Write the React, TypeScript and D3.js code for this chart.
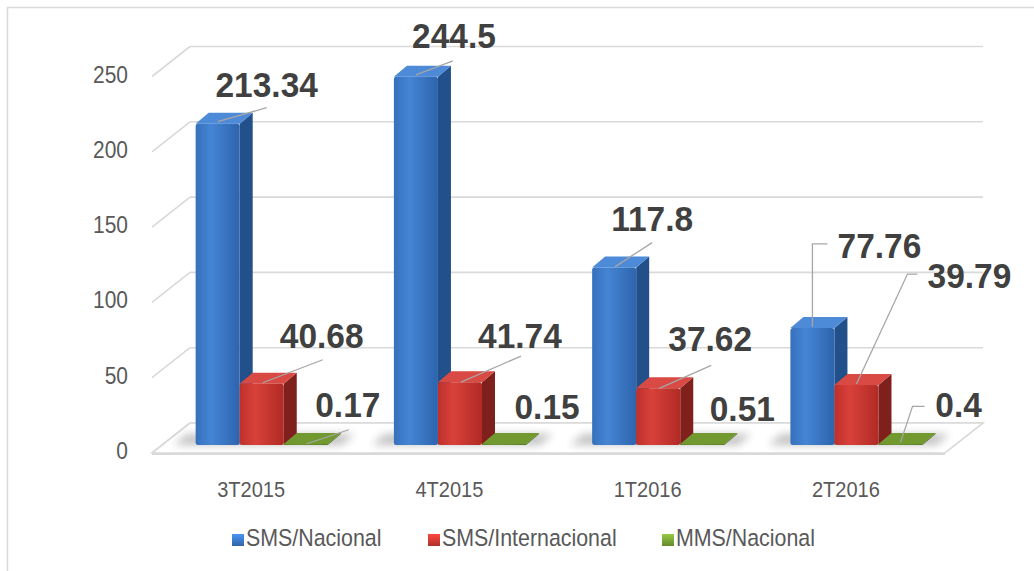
import React from "react";
import * as d3 from "d3";

// ---- data ----
const categories = ["3T2015", "4T2015", "1T2016", "2T2016"];
const seriesNames = ["SMS/Nacional", "SMS/Internacional", "MMS/Nacional"];
const smsNacional = [213.34, 244.5, 117.8, 77.76];
const smsInternacional = [40.68, 41.74, 37.62, 39.79];
const mmsNacional = [0.17, 0.15, 0.51, 0.4];
const yTicks = [0, 50, 100, 150, 200, 250];
const seriesValues = [smsNacional, smsInternacional, mmsNacional];

// ---- layout (label placement relative to bar top-front-centre) ----
type LL = { tx: number; ty: number; pts: number[][] };
const labelLayout: LL[][] = [
  // SMS/Nacional
  [
    { tx: 49, ty: -27, pts: [[0, -2], [49, -16]] },
    { tx: 38, ty: -29, pts: [[0, -2], [37, -16]] },
    { tx: 38, ty: -37, pts: [[1, -1], [38, -25]] },
    { tx: 67, ty: -70, pts: [[0, -1], [0, -84], [15, -84]] },
  ],
  // SMS/Internacional
  [
    { tx: 60, ty: -36, pts: [[1, -1], [61, -24]] },
    { tx: 60, ty: -34, pts: [[1, 0], [61, -26]] },
    { tx: 52, ty: -37, pts: [[1, 0], [53, -23]] },
    { tx: 113, ty: -97, pts: [[0, -1], [51, -111], [61, -111]] },
  ],
  // MMS/Nacional
  [
    { tx: 42, ty: -28, pts: [[1, -1], [43, -15]] },
    { tx: 43, ty: -26, pts: [] },
    { tx: 40, ty: -23, pts: [] },
    { tx: 58, ty: -27, pts: [[0, -2], [12, -38], [24, -38]] },
  ],
];

const W = 1034;
const H = 571;
const floorFrontY = 453;
const depthX = 38;
const depthY = -30;
const barFrontDX = 10.6;
const barBaseY = 445;
const barDepthX = 13;
const barDepthY = -11;

const colors = [
  { front: ["#3670bd", "#4585d4", "#2d64ad"], side: "#22508a", top: "#4d8ad8", leg: "#3b78c6" },
  { front: ["#bf302b", "#d8413a", "#b12a25"], side: "#80201c", top: "#d84a43", leg: "#cf3a34" },
  { front: ["#5f8227", "#6f9632", "#5a7c25"], side: "#4d6b1f", top: "#71992f", leg: "#7aa336" },
];

export default function App() {
  const xBand = d3.scaleBand<string>().domain(categories).range([152, 945]).paddingInner(0).paddingOuter(0);
  const band = xBand.bandwidth();
  const barW = band / (seriesNames.length + 1.5);
  const yBack = d3.scaleLinear().domain([0, 250]).range([floorFrontY + depthY, 46.5]);
  const pxPerUnit = (yBack(0) - yBack(250)) / 250;
  const yBar = (v: number) => barBaseY - v * pxPerUnit;

  const backX0 = 152 + depthX;
  const backX1 = 945 + depthX;

  const bars: any[] = [];
  categories.forEach((c, i) => {
    seriesValues.forEach((vals, s) => {
      const x0 = (xBand(c) as number) + barFrontDX + 0.75 * barW + s * barW;
      const x1 = x0 + barW;
      const v = vals[i];
      const top = Math.min(yBar(v), barBaseY - 1);
      bars.push({ c, i, s, x0, x1, top, v });
    });
  });

  const fmt = (v: number) => String(v);

  const legendItems = [
    { x: 232, name: seriesNames[0], s: 0 },
    { x: 428, name: seriesNames[1], s: 1 },
    { x: 662, name: seriesNames[2], s: 2 },
  ];

  const sx = 0.91;

  return (
    <div style={{ position: "absolute", left: 0, top: 0, width: W, height: H }}>
      <svg width={W} height={H} style={{ display: "block", fontFamily: "'Liberation Sans', Arial, sans-serif" }}>
        <defs>
          {colors.map((col, s) => (
            <linearGradient key={s} id={`front${s}`} x1="0" x2="1" y1="0" y2="0">
              <stop offset="0%" stopColor={col.front[0]} />
              <stop offset="35%" stopColor={col.front[1]} />
              <stop offset="100%" stopColor={col.front[2]} />
            </linearGradient>
          ))}
          {colors.map((col, s) => (
            <linearGradient key={"l" + s} id={`leg${s}`} x1="0" x2="0" y1="0" y2="1">
              <stop offset="0%" stopColor={d3.color(col.leg)!.brighter(0.6).toString()} />
              <stop offset="100%" stopColor={d3.color(col.leg)!.darker(0.5).toString()} />
            </linearGradient>
          ))}
          <filter id="blur" x="-20%" y="-100%" width="140%" height="300%">
            <feGaussianBlur stdDeviation="4" />
          </filter>
        </defs>
        <rect x={0} y={0} width={W} height={H} fill="#ffffff" />
        {/* outer frame (partially visible) */}
        <rect x={7.5} y={7.5} width={W + 20} height={H + 20} fill="none" stroke="#d9d9d9" strokeWidth={1.5} />

        {/* back wall gridlines + side wall diagonals */}
        {yTicks.map((t) => (
          <g key={t}>
            <line x1={backX0} x2={backX1} y1={yBack(t)} y2={yBack(t)} stroke="#d9d9d9" strokeWidth={1.6} />
            <line x1={152} y1={yBack(t) - depthY} x2={backX0} y2={yBack(t)} stroke="#d9d9d9" strokeWidth={1.6} />
            <text
              transform={`translate(128,${yBack(t) - depthY}) scale(${sx},1)`}
              textAnchor="end"
              dominantBaseline="middle"
              fontSize={23}
              fill="#595959"
            >
              {t}
            </text>
          </g>
        ))}
        {/* floor */}
        <path
          d={`M152,${floorFrontY} L945,${floorFrontY} L${backX1},${floorFrontY + depthY} L${backX0},${floorFrontY + depthY} Z`}
          fill="#ffffff"
          stroke="#d9d9d9"
          strokeWidth={1.6}
        />
        <line x1={152} x2={945} y1={floorFrontY + 1} y2={floorFrontY + 1} stroke="#d9d9d9" strokeWidth={2} />

        {/* shadows */}
        {categories.map((c) => {
          const gx0 = (xBand(c) as number) + barFrontDX + 0.75 * barW;
          const gx1 = gx0 + 3 * barW;
          return (
            <path
              key={"sh" + c}
              d={`M${gx0 - 22},${barBaseY} L${gx1 + 14},${barBaseY} L${gx1 + 14 + barDepthX},${barBaseY + barDepthY} L${gx0 - 22 + barDepthX},${barBaseY + barDepthY} Z`}
              fill="#000"
              opacity={0.24}
              filter="url(#blur)"
            />
          );
        })}

        {/* bars */}
        {bars.map((b) => {
          const col = colors[b.s];
          const { x0, x1, top } = b;
          const h = barBaseY - top;
          return (
            <g key={b.c + b.s}>
              <path
                d={`M${x1},${top} L${x1 + barDepthX},${top + barDepthY} L${x1 + barDepthX},${barBaseY + barDepthY} L${x1},${barBaseY} Z`}
                fill={col.side}
              />
              <path
                d={`M${x0},${top} L${x1},${top} L${x1 + barDepthX},${top + barDepthY} L${x0 + barDepthX},${top + barDepthY} Z`}
                fill={col.top}
              />
              <rect x={x0} y={top} width={barW} height={h} rx={h > 6 ? 2.5 : 0} fill={`url(#front${b.s})`} />
            </g>
          );
        })}

        {/* leader lines and labels */}
        {bars.map((b) => {
          const L = labelLayout[b.s][b.i];
          const cx = (b.x0 + b.x1) / 2;
          const ty = yBar(b.v);
          const line = d3.line()(L.pts.map((p) => [cx + p[0], ty + p[1]] as [number, number]));
          return (
            <g key={"lb" + b.c + b.s}>
              {L.pts.length > 0 && <path d={line || ""} fill="none" stroke="#a6a6a6" strokeWidth={1.3} />}
              <text
                transform={`translate(${cx + L.tx},${ty + L.ty}) scale(0.93,1)`}
                textAnchor="middle"
                fontSize={36}
                fontWeight="bold"
                fill="#404040"
              >
                {fmt(b.v)}
              </text>
            </g>
          );
        })}

        {/* category labels */}
        {categories.map((c) => (
          <text
            key={"cat" + c}
            transform={`translate(${(xBand(c) as number) + band / 2},491) scale(${sx},1)`}
            textAnchor="middle"
            dominantBaseline="middle"
            fontSize={22}
            fill="#595959"
          >
            {c}
          </text>
        ))}

        {/* legend */}
        {legendItems.map((it) => (
          <g key={"lg" + it.s}>
            <rect x={it.x} y={534} width={12} height={12} fill={`url(#leg${it.s})`} />
            <text
              transform={`translate(${it.x + 14},540) scale(${sx},1)`}
              dominantBaseline="middle"
              fontSize={23.5}
              fill="#595959"
            >
              {it.name}
            </text>
          </g>
        ))}
      </svg>
    </div>
  );
}
